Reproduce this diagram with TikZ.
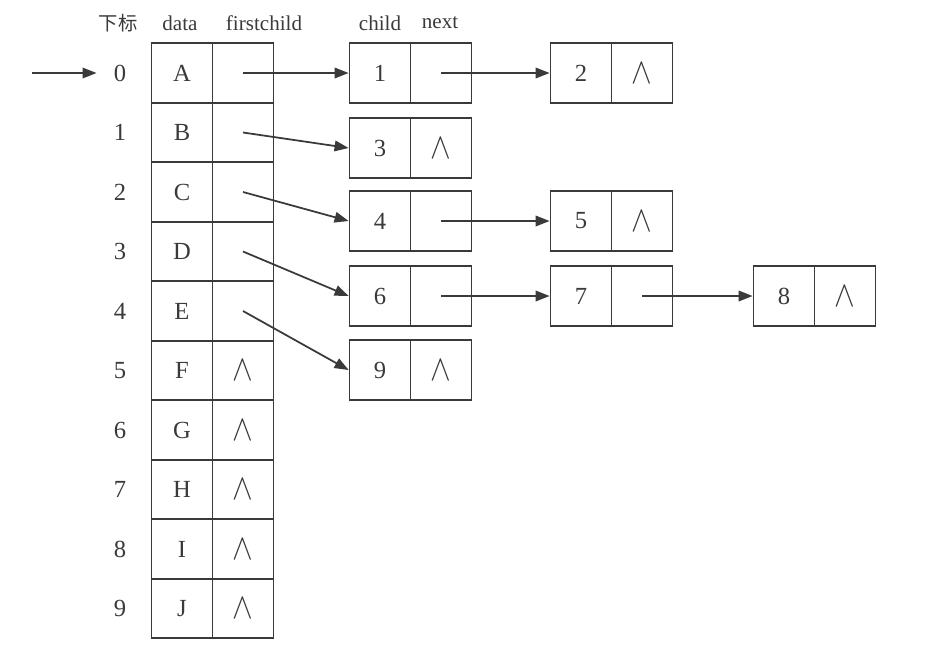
\documentclass[tikz,border=0pt]{standalone}
\usepackage{fontspec}
\setmainfont{Liberation Serif}
\newfontfamily\cjk{Noto Sans CJK SC}
\usetikzlibrary{arrows.meta, positioning}
\definecolor{tree-ink}{HTML}{3A3A3A}
\newcommand{\nil}{\scalebox{0.85}[1]{\fontsize{20}{20}\selectfont$\wedge$}}

\begin{document}
\begin{tikzpicture}[x=0.02cm, y=-0.02cm, >={Triangle[length=8pt,width=6pt]},
  line width=1pt, draw=tree-ink, text=tree-ink,
  cell/.style={draw, minimum width=1.22cm, minimum height=1.19cm, inner sep=0pt,
    font=\fontsize{14}{14}\selectfont},
  head/.style={font=\fontsize{12}{12}\selectfont},
  idx/.style={font=\fontsize{14}{14}\selectfont}]
  \useasboundingbox (0,0) rectangle (943,664);
  % kopfzeile
  \node[head] (hidx) at (118,23) {\cjk\fontsize{11}{11}\selectfont 下标};
  \node[head] (hdata) at (180,23) {data};
  \node[head] (hfirst) at (264,23) {firstchild};
  \node[head] (hchild) at (380,23) {child};
  \node[head] (hnext) at (440,23) {next};
  % tabelle
  \foreach \i/\d/\p in {0/A/,1/B/,2/C/,3/D/,4/E/,5/F/\nil,6/G/\nil,7/H/\nil,8/I/\nil,9/J/\nil} {
    \node[idx] (i\i) at (120,73+59.5*\i) {\i};
    \node[cell] (d\i) at (182,73+59.5*\i) {\d};
    \node[cell] (f\i) at (243,73+59.5*\i) {\p};
  }
  % kindknoten
  \foreach \k/\x/\y/\p in {1/380/73/, 2/581/73/\nil, 3/380/148/\nil, 4/380/221/,
      5/581/221/\nil, 6/380/296/, 7/581/296/, 8/784/296/\nil, 9/380/370/\nil} {
    \node[cell] (c\k) at (\x,\y) {\k};
    \node[cell] (n\k) at (\x+61,\y) {\p};
  }
  % zeiger
  \coordinate (start) at (32,73);
  \draw[->, shorten >=6pt] (start) -- (i0.west);
  \draw[->] (f0.center) -- (c1.west);
  \draw[->] (f1.center) -- (c3.west);
  \draw[->] (f2.center) -- (c4.west);
  \draw[->] (f3.center) -- (c6.west);
  \draw[->] (f4.center) -- (c9.west);
  \draw[->] (n1.center) -- (c2.west);
  \draw[->] (n4.center) -- (c5.west);
  \draw[->] (n6.center) -- (c7.west);
  \draw[->] (n7.center) -- (c8.west);
\end{tikzpicture}
\end{document}
